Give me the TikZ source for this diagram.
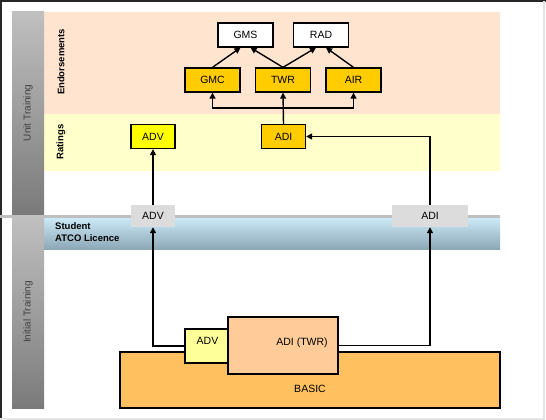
\documentclass[tikz,border=0pt]{standalone}
\usepackage{fontspec}
\setmainfont{Liberation Sans}
\usetikzlibrary{positioning,arrows.meta}
\definecolor{endorsefill}{HTML}{FFE5CF}
\definecolor{ratingfill}{HTML}{FFFFCC}
\definecolor{orangebox}{HTML}{FFCC00}
\definecolor{yellowbox}{HTML}{FFFF00}
\definecolor{basicfill}{HTML}{FFC060}
\definecolor{aditwrfill}{HTML}{FFCC99}
\definecolor{advfill}{HTML}{FFFF99}
\definecolor{licgray}{HTML}{DCDCDC}
\definecolor{bluetop}{HTML}{CDEBFA}
\definecolor{bluebot}{HTML}{8DA7B6}
\tikzstyle{endorse} = [rectangle, minimum width=55pt, minimum height=24pt, text centered, draw=black, line width=1.3pt, fill=orangebox, font=\fontsize{10.5}{12}\selectfont]
\tikzstyle{topbox} = [endorse, fill=white]
\tikzstyle{rating} = [endorse, minimum width=44pt]
\tikzstyle{licence} = [rectangle, minimum height=22pt, text centered, fill=licgray, font=\fontsize{10.5}{12}\selectfont]
\tikzstyle{basebox} = [rectangle, draw=black, line width=1.3pt]
\tikzstyle{boxtext} = [font=\fontsize{10.5}{12}\selectfont, inner sep=0pt]
\tikzstyle{bandlabel} = [rotate=90, font=\bfseries\fontsize{9.5}{11}\selectfont, inner sep=0pt]
\tikzstyle{sidelabel} = [rotate=90, text=black!75, font=\fontsize{10}{12}\selectfont, inner sep=0pt]
\tikzstyle{arrow} = [line width=1.4pt, -{Triangle[length=6pt,width=6pt]}]

\begin{document}
\begin{tikzpicture}[x=1pt, y=-1pt, node distance=70.5pt]
\useasboundingbox (0,0) rectangle (546,420);
% frame and bands
\fill [white] (0,0) rectangle (546,420);
\draw [black!85, line width=2pt] (1,420) -- (1,1) -- (546,1);
\draw [black!10, line width=2pt] (544,1) -- (544,419) -- (0,419);
\fill [endorsefill] (44,12) rectangle (500,114);
\fill [ratingfill] (44,114) rectangle (500,171);
\shade [top color=bluetop, bottom color=bluebot] (44,217) rectangle (500,249);
\fill [black!25] (0,215) rectangle (500,218);
\shade [top color=black!25, bottom color=black!52] (12,12) rectangle (44,214);
\shade [top color=black!25, bottom color=black!52] (12,218) rectangle (44,408);

\node (unit) [sidelabel] at (28,113) {Unit Training};
\node (initial) [sidelabel] at (28,312) {Initial Training};
\node (endlab) [bandlabel] at (61,62) {Endorsements};
\node (ratlab) [bandlabel] at (61,142) {Ratings};
\node (stulab) [font=\bfseries\fontsize{9.5}{11.5}\selectfont, align=left, anchor=west, inner sep=0pt] at (55,232) {Student\\ATCO Licence};

% endorsements
\node (gmc) [endorse] at (212.5,80) {GMC};
\node (twr) [endorse, right of=gmc] {TWR};
\node (air) [endorse, right of=twr] {AIR};
\node (gms) [topbox] at (245.5,35) {GMS};
\node (rad) [topbox] at (321,35) {RAD};

% ratings
\node (adv) [rating, fill=yellowbox] at (153,136.5) {ADV};
\node (adi) [rating] at (283.5,136.5) {ADI};

% licence
\node (licadv) [licence, minimum width=44pt] at (153,216) {ADV};
\node (licadi) [licence, minimum width=76pt] at (430,216) {ADI};

% initial training
\node (basic) [basebox, fill=basicfill, minimum width=380pt, minimum height=56pt] at (310,380) {};
\node (advbase) [basebox, fill=advfill, minimum width=43pt, minimum height=34pt] at (206.5,346) {};
\node (aditwr) [basebox, fill=aditwrfill, minimum width=110pt, minimum height=57pt] at (283,345.5) {};
\node (basictxt) [boxtext] at (310,389) {BASIC};
\node (advtxt) [boxtext] at (207.5,341) {ADV};
\node (aditxt) [boxtext] at (302,343) {ADI (TWR)};

\coordinate (split) at (283.5,108);

\draw [arrow] (gmc.north) -- ([xshift=-5pt]gms.south);
\draw [arrow] (twr.north) -- ([xshift=5pt]gms.south);
\draw [arrow] (twr.north) -- ([xshift=-5pt]rad.south);
\draw [arrow] (air.north) -- ([xshift=5pt]rad.south);
\draw [arrow] (adi.north) -- (twr.south);
\draw [arrow] (split) -| (gmc.south);
\draw [arrow] (split) -| (air.south);
\draw [arrow] (licadv.north) -- (adv.south);
\draw [arrow] (licadi.north) |- (adi.east);
\draw [arrow] (advbase.west) -| (licadv.south);
\draw [arrow] (aditwr.east) -| (licadi.south);
\end{tikzpicture}
\end{document}
